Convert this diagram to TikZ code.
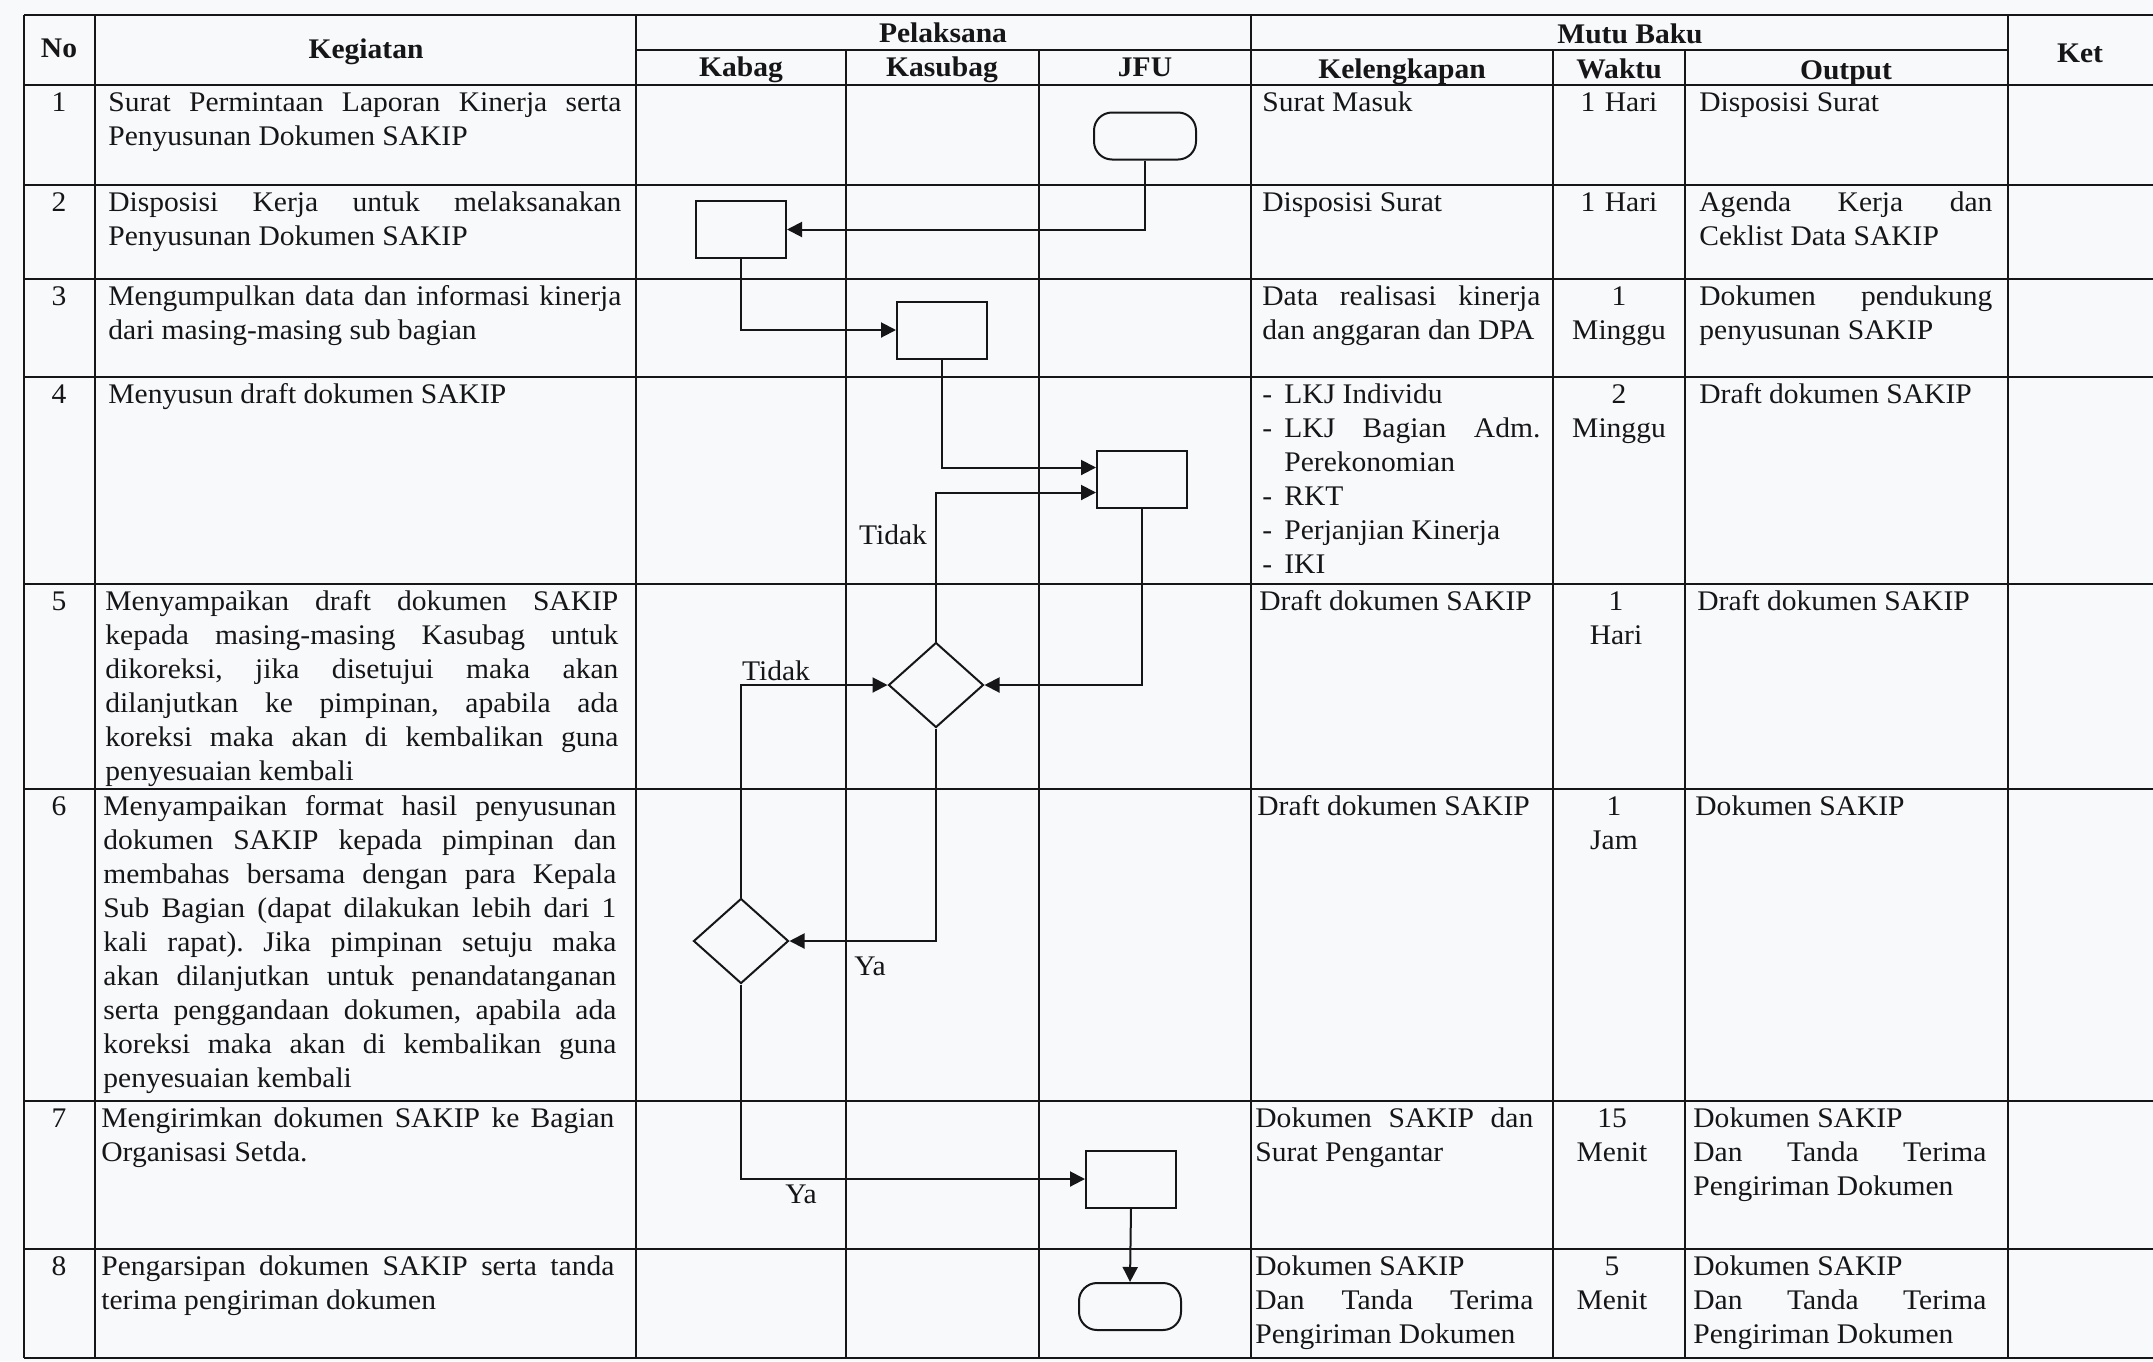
\documentclass[tikz,border=0pt]{standalone}
\usepackage{fontspec}
\setmainfont{Liberation Serif}[FakeStretch=1.04]
\usetikzlibrary{arrows.meta, shapes.geometric}

\definecolor{kertas}{RGB}{247,249,251}
\definecolor{tinta}{RGB}{22,22,24}
\frenchspacing

\begin{document}
\begin{tikzpicture}[x=0.5pt, y=-0.5pt, >={Triangle[length=7.5pt,width=7.5pt]},
  garis/.style={line width=1.2pt, tinta},
  judul/.style={anchor=base, inner sep=0pt, tinta, font=\fontsize{14.2}{17}\selectfont\bfseries},
  isi/.style={anchor=north west, inner sep=0pt, text width=#1, align=justify, tinta,
    font=\fontsize{14.2}{17}\selectfont, execute at begin node={\tolerance=10000\hbadness=10000\noindent\strut}},
  waktu/.style={anchor=north, inner sep=0pt, text width=60pt, align=center, tinta,
    font=\fontsize{14.2}{17}\selectfont, execute at begin node=\strut},
  proses/.style={draw=tinta, line width=1pt, minimum width=45pt, minimum height=28.5pt, inner sep=0pt},
  keputusan/.style={draw=tinta, diamond, line width=1pt, minimum width=47.5pt, minimum height=42.5pt, inner sep=0pt},
  terminal/.style={draw=tinta, line width=1pt, rounded corners=9pt, minimum width=51pt, minimum height=23.5pt, inner sep=0pt},
  alur/.style={->, line width=1pt, tinta},
  cabang/.style={inner sep=0pt, tinta, font=\fontsize{14.2}{17}\selectfont}]

  \fill[kertas] (0,0) rectangle (2153,1361);
  \useasboundingbox (0,0) rectangle (2153,1361);

  \foreach \y in {15,85,185,279,377,584,789,1101,1249,1358}
    \draw[garis] (24,\y) -- (2153,\y);
  \draw[garis] (636,50) -- (2008,50);
  \foreach \x in {24,95,636,1251,2008}
    \draw[garis] (\x,15) -- (\x,1358);
  \foreach \x in {846,1039,1553,1685}
    \draw[garis] (\x,50) -- (\x,1358);

  \node[judul] (hNo) at (59,57) {No};
  \node[judul] (hKeg) at (366,58) {Kegiatan};
  \node[judul] (hPel) at (943,42) {Pelaksana};
  \node[judul] (hKabag) at (741,76) {Kabag};
  \node[judul] (hKasubag) at (942,76) {Kasubag};
  \node[judul] (hJFU) at (1145,76) {JFU};
  \node[judul] (hMutu) at (1630,43) {Mutu Baku};
  \node[judul] (hKel) at (1402,78) {Kelengkapan};
  \node[judul] (hWkt) at (1619,78) {Waktu};
  \node[judul] (hOut) at (1846,79) {Output};
  \node[judul] (hKet) at (2080,62) {Ket};

  \foreach \i/\y in {1/85,2/185,3/279,4/377,5/584,6/789,7/1101,8/1249}
    \node[waktu, text width=30pt] (no\i) at (59,\y+2) {\i};

  \node[isi=256.5pt] (keg1) at (108,87) {Surat Permintaan Laporan Kinerja serta\linebreak Penyusunan Dokumen SAKIP};
  \node[isi=256.5pt] (keg2) at (108,187) {Disposisi Kerja untuk melaksanakan\linebreak Penyusunan Dokumen SAKIP};
  \node[isi=256.5pt] (keg3) at (108,281) {Mengumpulkan data dan informasi kinerja\linebreak dari masing-masing sub bagian};
  \node[isi=256.5pt] (keg4) at (108,379) {Menyusun draft dokumen SAKIP};
  \node[isi=256.5pt] (keg5) at (105,586) {Menyampaikan draft dokumen SAKIP\linebreak
    kepada masing-masing Kasubag untuk\linebreak dikoreksi, jika disetujui maka akan\linebreak
    dilanjutkan ke pimpinan, apabila ada\linebreak koreksi maka akan di kembalikan guna\linebreak
    penyesuaian kembali};
  \node[isi=256.5pt] (keg6) at (103,791) {Menyampaikan format hasil penyusunan\linebreak
    dokumen SAKIP kepada pimpinan dan\linebreak membahas bersama dengan para Kepala\linebreak
    Sub Bagian (dapat dilakukan lebih dari 1\linebreak kali rapat). Jika pimpinan setuju maka\linebreak
    akan dilanjutkan untuk penandatanganan\linebreak serta penggandaan dokumen, apabila ada\linebreak
    koreksi maka akan di kembalikan guna\linebreak penyesuaian kembali};
  \node[isi=256.5pt] (keg7) at (101,1103) {Mengirimkan dokumen SAKIP ke Bagian\linebreak Organisasi Setda.};
  \node[isi=256.5pt] (keg8) at (101,1251) {Pengarsipan dokumen SAKIP serta tanda\linebreak terima pengiriman dokumen};

  \node[isi=139pt] (kel1) at (1262,87) {Surat Masuk};
  \node[isi=139pt] (kel2) at (1262,187) {Disposisi Surat};
  \node[isi=139pt] (kel3) at (1262,281) {Data realisasi kinerja\linebreak dan anggaran dan DPA};
  \node[isi=139pt] (kel4) at (1262,379) {\makebox[11pt][l]{-}LKJ Individu\\
    \makebox[11pt][l]{-}\makebox[128pt][s]{LKJ Bagian Adm.}\\
    \hspace*{11pt}Perekonomian\\ \makebox[11pt][l]{-}RKT\\
    \makebox[11pt][l]{-}Perjanjian Kinerja\\ \makebox[11pt][l]{-}IKI};
  \node[isi=139pt] (kel5) at (1259,586) {Draft dokumen SAKIP};
  \node[isi=139pt] (kel6) at (1257,791) {Draft dokumen SAKIP};
  \node[isi=139pt] (kel7) at (1255,1103) {Dokumen SAKIP dan\linebreak Surat Pengantar};
  \node[isi=139pt] (kel8) at (1255,1251) {Dokumen SAKIP\\ Dan Tanda Terima\linebreak Pengiriman Dokumen};

  \node[waktu] (wkt1) at (1619,87) {1 Hari};
  \node[waktu] (wkt2) at (1619,187) {1 Hari};
  \node[waktu] (wkt3) at (1619,281) {1\\Minggu};
  \node[waktu] (wkt4) at (1619,379) {2\\Minggu};
  \node[waktu] (wkt5) at (1616,586) {1\\Hari};
  \node[waktu] (wkt6) at (1614,791) {1\\Jam};
  \node[waktu] (wkt7) at (1612,1103) {15\\Menit};
  \node[waktu] (wkt8) at (1612,1251) {5\\Menit};

  \node[isi=146.5pt] (out1) at (1699,87) {Disposisi Surat};
  \node[isi=146.5pt] (out2) at (1699,187) {Agenda Kerja dan\linebreak Ceklist Data SAKIP};
  \node[isi=146.5pt] (out3) at (1699,281) {Dokumen pendukung\linebreak penyusunan SAKIP};
  \node[isi=146.5pt] (out4) at (1699,379) {Draft dokumen SAKIP};
  \node[isi=146.5pt] (out5) at (1697,586) {Draft dokumen SAKIP};
  \node[isi=146.5pt] (out6) at (1695,791) {Dokumen SAKIP};
  \node[isi=146.5pt] (out7) at (1693,1103) {Dokumen SAKIP\\ Dan Tanda Terima\linebreak Pengiriman Dokumen};
  \node[isi=146.5pt] (out8) at (1693,1251) {Dokumen SAKIP\\ Dan Tanda Terima\linebreak Pengiriman Dokumen};

  \node[terminal] (mulai) at (1145,136) {};
  \node[proses] (b1) at (741,229.5) {};
  \node[proses] (b2) at (942,330) {};
  \node[proses] (b3) at (1142,479.5) {};
  \node[keputusan] (d1) at (936,685) {};
  \node[keputusan] (d2) at (741,941) {};
  \node[proses] (b4) at (1131,1179) {};
  \node[terminal] (selesai) at (1130,1306.5) {};

  \draw[alur] (mulai.south) |- (b1.east);
  \draw[alur] (b1.south) |- (b2.west);
  \draw[alur] (b2.south) |- ([yshift=6pt]b3.west);
  \draw[alur] (d1.north) |- ([yshift=-6.5pt]b3.west);
  \draw[alur] (b3.south) |- (d1.east);
  \draw[alur] (d2.north) |- (d1.west);
  \draw[alur] (d1.south) |- (d2.east);
  \draw[alur] (d2.south) |- (b4.west);
  \draw[alur] (b4.south) -- (selesai.north);

  \node[cabang] (tidak1) at (893,535) {Tidak};
  \node[cabang] (tidak2) at (776,671) {Tidak};
  \node[cabang] (ya1) at (870,966) {Ya};
  \node[cabang] (ya2) at (801,1194) {Ya};
\end{tikzpicture}
\end{document}
